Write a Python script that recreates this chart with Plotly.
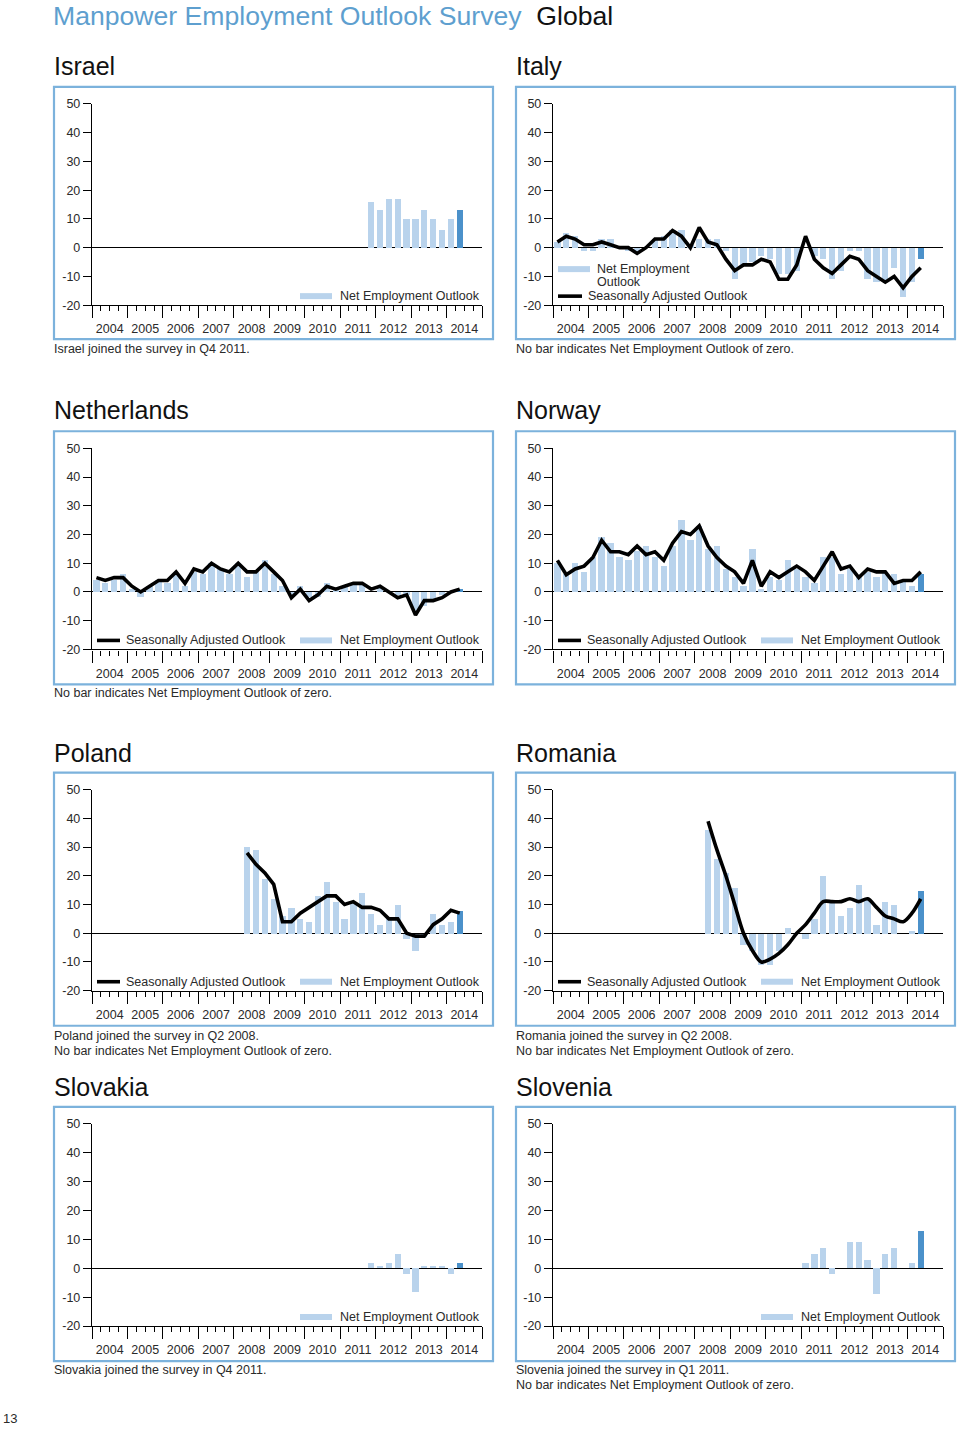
import pandas as pd
import plotly.graph_objects as go

# ---------------- data ----------------
QUARTERS = pd.period_range("2004Q1", "2014Q2", freq="Q")  # 42 quarters
Y_TICKS = [-20, -10, 0, 10, 20, 30, 40, 50]
Y_TICK_TEXT = ["-20", "-10", "0", "10", "20", "30", "40", "50"]

countries = ["Israel", "Italy", "Netherlands", "Norway", "Poland", "Romania", "Slovakia", "Slovenia"]

israel_start = "2011Q4"
israel_neo = [16, 13, 17, 17, 10, 10, 13, 10, 6, 10, 13]

italy_start = "2004Q1"
italy_neo = [2, 5, 4, -1, -1, 3, 3, 0, -1, -2, 0, 3, 4, 6, 6, 1, 3, 3, 3, -1, -11,
             -6, -5, -3, -4, -9, -9, -8, 0, -3, -4, -11, -8, -1, -1, -11, -12, -12, -7, -17, -12, -4]
italy_sa = [2, 4, 3, 1, 1, 2, 1, 0, 0, -2, 0, 3, 3, 6, 4, 0, 7, 2, 1, -4, -8,
            -6, -6, -4, -5, -11, -11, -6, 4, -4, -7, -9, -6, -3, -4, -8, -10, -12, -10, -14, -10, -7]

netherlands_start = "2004Q1"
netherlands_neo = [4, 3, 4, 6, 1, -2, 2, 4, 3, 6, 2, 7, 6, 10, 8, 6, 10, 5, 7, 11, 6,
                   2, -1, 2, -2, -2, 3, 1, 2, 3, 3, 0, 2, 0, -1, -1, -7, -5, -3, -1, 0, 1]
netherlands_sa = [5, 4, 5, 5, 2, 0, 2, 4, 4, 7, 3, 8, 7, 10, 8, 7, 10, 7, 7, 10, 7,
                  4, -2, 1, -3, -1, 2, 1, 2, 3, 3, 1, 2, 0, -2, -1, -8, -3, -3, -2, 0, 1]

norway_start = "2004Q1"
norway_neo = [10, 6, 10, 7, 12, 19, 17, 12, 11, 14, 16, 12, 9, 16, 25, 18, 23, 15, 16, 8, 5,
              2, 15, 1, 5, 4, 11, 8, 5, 3, 12, 12, 6, 8, 5, 7, 5, 7, 6, 4, 2, 6]
norway_sa = [11, 6, 8, 9, 12, 18, 14, 14, 13, 16, 13, 14, 11, 17, 21, 20, 23, 16, 12, 9, 7,
             3, 11, 2, 7, 5, 7, 9, 7, 4, 9, 14, 8, 9, 5, 8, 7, 7, 3, 4, 4, 7]

poland_start = "2008Q2"
poland_neo = [30, 29, 19, 12, 6, 9, 5, 4, 13, 18, 11, 5, 11, 14, 7, 3, 5, 10, -2, -6, -1, 7, 3, 4, 8]
poland_sa = [28, 24, 21, 17, 4, 4, 7, 9, 11, 13, 13, 10, 11, 9, 9, 8, 5, 5, 0, -1, -1, 3, 5, 8, 7]

romania_start = "2008Q2"
romania_neo = [36, 26, 21, 16, -4, -6, -11, -11, -6, 2, 0, -2, 5, 20, 11, 6, 9, 17, 12, 3, 11, 10, 0, 1, 15]
romania_sa = [39, 29, 20, 10, 0, -6, -10, -9, -7, -4, 0, 3, 7, 11, 11, 11, 12, 11, 12, 9, 6, 5, 4, 7, 12]

slovakia_start = "2011Q4"
slovakia_neo = [2, 1, 2, 5, -2, -8, 1, 1, 1, -2, 2]

slovenia_start = "2011Q1"
slovenia_neo = [2, 5, 7, -2, 0, 9, 9, 3, -9, 5, 7, 0, 2, 13]

neo_data = {
    "Israel": (israel_start, israel_neo), "Italy": (italy_start, italy_neo),
    "Netherlands": (netherlands_start, netherlands_neo), "Norway": (norway_start, norway_neo),
    "Poland": (poland_start, poland_neo), "Romania": (romania_start, romania_neo),
    "Slovakia": (slovakia_start, slovakia_neo), "Slovenia": (slovenia_start, slovenia_neo),
}
sa_data = {
    "Italy": (italy_start, italy_sa), "Netherlands": (netherlands_start, netherlands_sa),
    "Norway": (norway_start, norway_sa), "Poland": (poland_start, poland_sa),
    "Romania": (romania_start, romania_sa),
}
notes = {
    "Israel": ["Israel joined the survey in Q4 2011."],
    "Italy": ["No bar indicates Net Employment Outlook of zero."],
    "Netherlands": ["No bar indicates Net Employment Outlook of zero."],
    "Norway": [],
    "Poland": ["Poland joined the survey in Q2 2008.", "No bar indicates Net Employment Outlook of zero."],
    "Romania": ["Romania joined the survey in Q2 2008.", "No bar indicates Net Employment Outlook of zero."],
    "Slovakia": ["Slovakia joined the survey in Q4 2011."],
    "Slovenia": ["Slovenia joined the survey in Q1 2011.", "No bar indicates Net Employment Outlook of zero."],
}

# ---------------- styling / layout ----------------
W, H = 960, 1433
FONT = "Liberation Sans, Arial, sans-serif"
BAR_LIGHT = "#b9d3ec"
BAR_DARK = "#4b91ca"
BOX_COLOR = "#7cb2dc"
TEXT = "#2a2a2a"
TITLE_BLUE = "#5e9fcf"

# vertical compensation of the photographed page (observed = OFF + SCALE * page_y)
V_OFF, V_SCALE = 7.1, 0.9894

COL_AXIS_L = [92, 553]
COL_AXIS_R = [482, 943]
COL_BOX = [(54, 493), (516, 955)]
ROW_Y50 = [104, 448, 789, 1123]
ROW_YM20 = [305, 649, 990, 1325]
ROW_BOX = [(87, 339), (431, 684), (772, 1025), (1106, 1360)]
ROW_TITLE = [66, 410, 752, 1086]
ROW_NOTE = [349, 693, 1035, 1369]
ROW_LEG = [296, 640, 981, 1316]


def px(x):
    return x / W


def py(y):
    return 1 - ((y - V_OFF) / V_SCALE) / H


def qdate(p):
    return p.start_time + (p.end_time - p.start_time) / 2


qmid = [qdate(p) for p in QUARTERS]
qindex = {str(p): i for i, p in enumerate(QUARTERS)}
BAR_W = 0.72 * 91.3 * 86400000

fig = go.Figure()
shapes = []
annotations = []
layout = {}


def text_at(x, y, t, size=13, color=TEXT, raw_y=None):
    yy = raw_y if raw_y is not None else py(y)
    annotations.append(dict(x=px(x - 2), y=yy, xref="paper", yref="paper", xanchor="left", yanchor="middle",
                            showarrow=False, text=t, font=dict(family=FONT, size=size, color=color)))


text_at(53, 0, f"<span style='color:{TITLE_BLUE}'>Manpower Employment Outlook Survey</span>  Global",
        size=26.6, color="#111", raw_y=1 - 9 / H)
text_at(3, 0, "13", raw_y=1 - 1425 / H)

for k, name in enumerate(countries):
    col, row = k % 2, k // 2
    n = k + 1
    xa, ya = f"x{n}", f"y{n}"
    # bars
    start, vals = neo_data[name]
    s = qindex[start]
    xs = qmid[s:s + len(vals)]
    colors = [BAR_LIGHT] * (len(vals) - 1) + [BAR_DARK]
    fig.add_trace(go.Bar(x=xs, y=vals, width=BAR_W, marker=dict(color=colors, line=dict(width=0)),
                         xaxis=xa, yaxis=ya, showlegend=False, name="Net Employment Outlook"))
    if name in sa_data:
        start, vals = sa_data[name]
        s = qindex[start]
        xs = qmid[s:s + len(vals)]
        fig.add_trace(go.Scatter(x=xs, y=vals, mode="lines",
                                 line=dict(color="black", width=3.6,
                                           shape="spline" if name == "Romania" else "linear",
                                           smoothing=0.9),
                                 xaxis=xa, yaxis=ya, showlegend=False, name="Seasonally Adjusted Outlook"))

    layout[f"xaxis{n}"] = dict(
        domain=[px(COL_AXIS_L[col]), px(COL_AXIS_R[col])], anchor=ya, type="date",
        range=["2004-01-01", "2015-01-01"], tick0="2004-01-01", dtick="M12", tickformat="%Y",
        ticklabelmode="period", ticks="outside", ticklen=12, tickwidth=1.4, tickcolor="black",
        showline=True, linecolor="black", linewidth=1.4, showgrid=False, zeroline=False,
        tickfont=dict(family=FONT, size=12.5, color=TEXT),
        minor=dict(dtick="M3", tick0="2004-01-01", ticks="outside", ticklen=5, tickwidth=1.2,
                   tickcolor="black", showgrid=False),
    )
    layout[f"yaxis{n}"] = dict(
        domain=[py(ROW_YM20[row]), py(ROW_Y50[row])], anchor=xa, range=[-20, 50],
        tickmode="array", tickvals=Y_TICKS, ticktext=Y_TICK_TEXT,
        ticks="outside", ticklen=8, tickwidth=1.4, tickcolor="black",
        showline=True, linecolor="black", linewidth=1.4, showgrid=False,
        zeroline=True, zerolinecolor="black", zerolinewidth=1.4,
        tickfont=dict(family=FONT, size=12.5, color=TEXT),
    )

    # box
    bx0, bx1 = COL_BOX[col]
    by0, by1 = ROW_BOX[row]
    shapes.append(dict(type="rect", xref="paper", yref="paper", x0=px(bx0), x1=px(bx1), y0=py(by1), y1=py(by0),
                       line=dict(color=BOX_COLOR, width=2.2), fillcolor="rgba(0,0,0,0)", layer="below"))
    # title
    text_at(COL_BOX[col][0], ROW_TITLE[row], name, size=25, color="#111")
    # notes
    for j, t in enumerate(notes[name]):
        text_at(COL_BOX[col][0], ROW_NOTE[row] + 15 * j, t, size=12.5)

    # legend
    ax = COL_AXIS_L[col]
    ly = ROW_LEG[row]
    if name == "Italy":
        shapes.append(dict(type="rect", xref="paper", yref="paper", x0=px(ax + 5), x1=px(ax + 37),
                           y0=py(ly - 24), y1=py(ly - 30), fillcolor=BAR_LIGHT, line=dict(width=0)))
        text_at(ax + 44, ly - 27, "Net Employment", size=12.5)
        text_at(ax + 44, ly - 14, "Outlook", size=12.5)
        shapes.append(dict(type="line", xref="paper", yref="paper", x0=px(ax + 5), x1=px(ax + 29),
                           y0=py(ly), y1=py(ly), line=dict(color="black", width=3.6)))
        text_at(ax + 35, ly, "Seasonally Adjusted Outlook", size=12.5)
    else:
        if name in sa_data:
            shapes.append(dict(type="line", xref="paper", yref="paper", x0=px(ax + 5), x1=px(ax + 28),
                               y0=py(ly), y1=py(ly), line=dict(color="black", width=3.6)))
            text_at(ax + 34, ly, "Seasonally Adjusted Outlook", size=12.5)
        shapes.append(dict(type="rect", xref="paper", yref="paper", x0=px(ax + 208), x1=px(ax + 240),
                           y0=py(ly + 3), y1=py(ly - 3), fillcolor=BAR_LIGHT, line=dict(width=0)))
        text_at(ax + 248, ly, "Net Employment Outlook", size=12.5)

fig.update_layout(width=W, height=H, margin=dict(l=0, r=0, t=0, b=0), paper_bgcolor="white",
                  plot_bgcolor="rgba(0,0,0,0)", shapes=shapes, annotations=annotations, bargap=0,
                  barmode="overlay", font=dict(family=FONT), **layout)

fig.write_html(
    "out.html",
    config={"displayModeBar": False},
    post_script=(
        "document.documentElement.style.margin='0';document.body.style.margin='0';"
        "document.body.style.padding='0';document.documentElement.style.overflow='hidden';"
        "var d=document.getElementById('{plot_id}');d.style.position='fixed';"
        "d.style.top='0px';d.style.left='0px';"
    ),
)
